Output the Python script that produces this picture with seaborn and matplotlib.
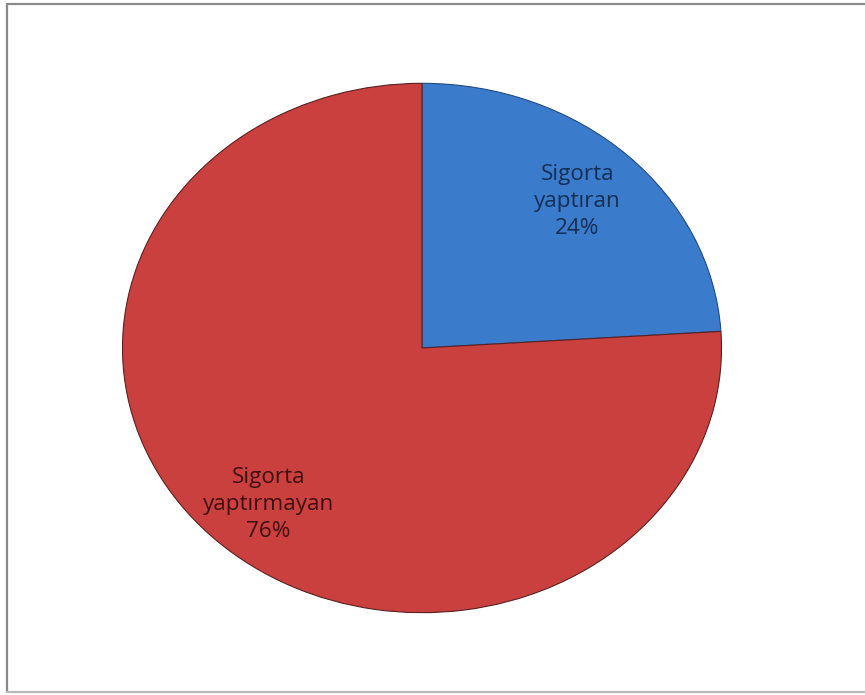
import matplotlib
matplotlib.use("Agg")
import matplotlib.pyplot as plt
import seaborn as sns
from matplotlib.lines import Line2D

# Data
categories = ["Sigorta\nyaptıran", "Sigorta\nyaptırmayan"]
shares = [24, 76]
slice_colors = ["#3b7bcb", "#c9403f"]
text_colors = ["#142f55", "#3e1010"]

sns.set_theme(style="white")
plt.rcParams["font.family"] = ["Open Sans", "DejaVu Sans"]

W, H = 865, 695
fig = plt.figure(figsize=(W / 100, H / 100), dpi=100)
fig.patch.set_facecolor("white")

# Elliptical pie: axes box spans the ellipse, aspect left free
cx, cy, rx, ry = 422, 348, 301, 266
ax = fig.add_axes([(cx - rx) / W, (H - cy - ry) / H, 2 * rx / W, 2 * ry / H])

wedges, texts = ax.pie(
    shares,
    labels=[f"{c}\n{v}%" for c, v in zip(categories, shares)],
    colors=slice_colors,
    startangle=90,
    counterclock=False,
    labeldistance=0.76,
    wedgeprops=dict(edgecolor="#5a2020", linewidth=0.8),
    textprops=dict(fontsize=16.2, linespacing=1.38),
)
label_pos = [(0.518, 0.555), (-0.512, -0.59)]
for t, c, p in zip(texts, text_colors, label_pos):
    t.set_color(c)
    t.set_ha("center")
    t.set_va("center")
    t.set_position(p)
wedges[0].set_edgecolor("#1f4a80")

ax.set_aspect("auto")
ax.set_xlim(-1.005, 1.005)
ax.set_ylim(-1.005, 1.005)
ax.axis("off")

# Frame lines around the chart area
fig.add_artist(Line2D([7.5 / W, 7.5 / W], [1 - 3.5 / H, 1 - 691.5 / H],
                      transform=fig.transFigure, color="#8a8a8a", lw=1.6))
fig.add_artist(Line2D([7.5 / W, 1.0], [1 - 3.5 / H, 1 - 3.5 / H],
                      transform=fig.transFigure, color="#8a8a8a", lw=1.6))
fig.add_artist(Line2D([7.5 / W, 1.0], [1 - 691.5 / H, 1 - 691.5 / H],
                      transform=fig.transFigure, color="#b8b8b8", lw=1.6))

fig.savefig("out.png", dpi=100)
